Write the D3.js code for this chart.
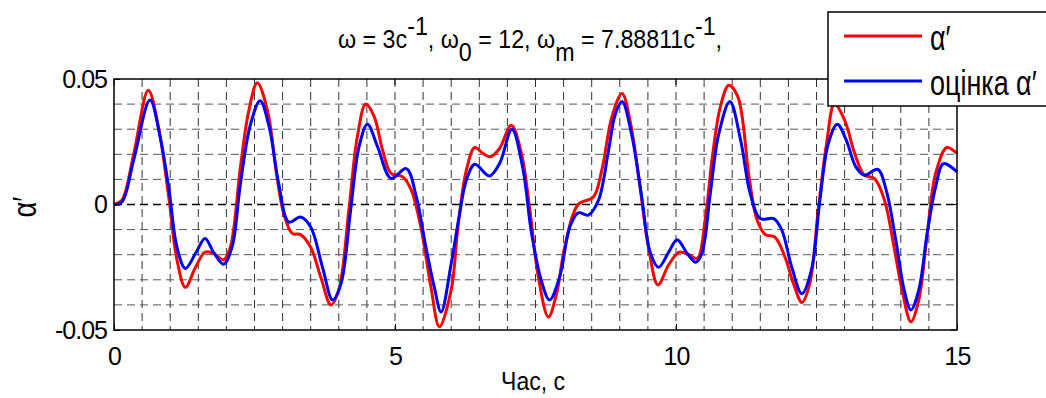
<!DOCTYPE html>
<html>
<head>
<meta charset="utf-8">
<script src="https://cdn.jsdelivr.net/npm/d3@7"></script>
<style>
  body { margin: 0; background: #fff; }
  text { font-family: "Liberation Sans", Arial, sans-serif; fill: #000; }
</style>
</head>
<body>
<div id="chart"></div>
<script>
// alpha' (red)
var redT = [0, 0.14, 0.35, 0.61, 0.79, 0.98, 1.12, 1.27, 1.45, 1.62, 1.77, 1.95, 2.07, 2.25, 2.4, 2.55, 2.73, 2.9, 3.02, 3.17, 3.32, 3.5, 3.68, 3.86, 4.0, 4.18, 4.33, 4.48, 4.63, 4.78, 4.93, 5.14, 5.29, 5.46, 5.64, 5.79, 6.0, 6.12, 6.27, 6.42, 6.57, 6.7, 6.86, 7.07, 7.25, 7.4, 7.55, 7.73, 7.88, 8.02, 8.26, 8.53, 8.68, 8.86, 9.04, 9.18, 9.36, 9.51, 9.68, 9.87, 10.06, 10.23, 10.38, 10.52, 10.64, 10.79, 10.94, 11.1, 11.3, 11.44, 11.59, 11.76, 11.94, 12.09, 12.24, 12.38, 12.53, 12.68, 12.82, 13.0, 13.18, 13.35, 13.53, 13.71, 13.88, 14.03, 14.18, 14.32, 14.47, 14.62, 14.82, 15];
var redV = [0, 0.0017, 0.02, 0.0455, 0.031, 0.002, -0.022, -0.033, -0.025, -0.019, -0.0195, -0.022, -0.017, 0.015, 0.0375, 0.0485, 0.0375, 0.011, -0.0036, -0.0115, -0.012, -0.017, -0.029, -0.040, -0.034, -0.002, 0.027, 0.040, 0.035, 0.0216, 0.0124, 0.011, 0.0057, -0.009, -0.033, -0.0487, -0.034, -0.009, 0.0137, 0.0227, 0.0203, 0.019, 0.0223, 0.0316, 0.0203, -0.0023, -0.0288, -0.0448, -0.035, -0.017, 0, 0.003, 0.0137, 0.035, 0.0442, 0.0336, 0.007, -0.017, -0.032, -0.024, -0.019, -0.020, -0.0215, -0.006, 0.0177, 0.039, 0.0475, 0.043, 0.011, -0.006, -0.012, -0.013, -0.021, -0.0315, -0.039, -0.0315, -0.0023, 0.0243, 0.040, 0.0336, 0.0203, 0.0117, 0.0104, 0.0017, -0.017, -0.035, -0.0467, -0.038, -0.0115, 0.0124, 0.0227, 0.0203];

// "оцінка alpha'" (blue)
var blueT = [0, 0.14, 0.35, 0.64, 0.82, 0.98, 1.12, 1.27, 1.45, 1.62, 1.77, 1.95, 2.1, 2.25, 2.43, 2.6, 2.76, 2.93, 3.11, 3.32, 3.5, 3.71, 3.89, 4.04, 4.21, 4.36, 4.51, 4.69, 4.93, 5.2, 5.38, 5.55, 5.7, 5.82, 6.0, 6.15, 6.27, 6.42, 6.68, 6.86, 7.08, 7.27, 7.43, 7.6, 7.75, 7.93, 8.11, 8.26, 8.44, 8.62, 8.8, 8.92, 9.04, 9.21, 9.39, 9.54, 9.69, 9.87, 10.02, 10.2, 10.35, 10.46, 10.61, 10.76, 10.96, 11.15, 11.32, 11.5, 11.74, 11.88, 12.06, 12.24, 12.41, 12.56, 12.71, 12.87, 13.03, 13.2, 13.35, 13.59, 13.74, 13.91, 14.06, 14.18, 14.32, 14.47, 14.62, 14.76, 15];
var blueV = [0, 0.001, 0.0177, 0.0416, 0.027, 0.0057, -0.017, -0.0255, -0.0195, -0.0135, -0.019, -0.0238, -0.017, 0.0084, 0.032, 0.0413, 0.031, 0.0084, -0.007, -0.005, -0.009, -0.025, -0.038, -0.0315, -0.0023, 0.023, 0.032, 0.023, 0.0104, 0.0143, 0.003, -0.017, -0.033, -0.0428, -0.0235, -0.0036, 0.0097, 0.016, 0.0114, 0.0163, 0.030, 0.015, -0.0115, -0.030, -0.038, -0.0288, -0.009, -0.0033, -0.0042, 0.0017, 0.0216, 0.036, 0.041, 0.028, 0.003, -0.019, -0.025, -0.019, -0.014, -0.0195, -0.023, -0.0195, 0.0044, 0.028, 0.041, 0.0256, 0.0044, -0.0056, -0.0056, -0.010, -0.025, -0.0355, -0.026, 0.0017, 0.0243, 0.032, 0.0256, 0.015, 0.0117, 0.014, 0.0057, -0.014, -0.034, -0.042, -0.034, -0.0115, 0.007, 0.0163, 0.013];

var xTicks = [0, 5, 10, 15];
var yTicks = [-0.05, 0, 0.05];
var legendLabels = ["\u03B1\u2032", "оцінка \u03B1\u2032"];

var W = 1046, H = 398;
var margin = { top: 79, right: 89, bottom: 68, left: 114 },
    width = W - margin.left - margin.right,
    height = H - margin.top - margin.bottom;

var svg = d3.select("#chart").append("svg")
    .attr("width", W)
    .attr("height", H);

// text squeezed sideways, like the exported figure
function narrowText(parent, px, py, str, size, sx, anchor) {
    return parent.append("g")
        .attr("transform", "translate(" + px + "," + py + ") scale(" + sx + ",1)")
        .append("text")
        .attr("text-anchor", anchor || "start")
        .style("font-size", size + "px")
        .text(str);
}

var x = d3.scaleLinear().domain([0, 15]).range([0, width]);
var y = d3.scaleLinear().domain([-0.05, 0.05]).range([height, 0]);

var g = svg.append("g")
    .attr("transform", "translate(" + margin.left + "," + margin.top + ")");

// grid, every 0.5 s and every 0.01
var xGrid = d3.range(1, 30).map(function (i) { return i * 0.5; });
var yGrid = d3.range(-4, 5).map(function (i) { return i * 0.01; });

g.selectAll(".vgrid")
    .data(xGrid)
    .enter()
    .append("line")
    .attr("x1", function (d) { return x(d); })
    .attr("x2", function (d) { return x(d); })
    .attr("y1", 0)
    .attr("y2", height)
    .attr("stroke", "#333")
    .attr("stroke-width", 1)
    .attr("stroke-dasharray", "8,5");

g.selectAll(".hgrid")
    .data(yGrid)
    .enter()
    .append("line")
    .attr("x1", 0)
    .attr("x2", width)
    .attr("y1", function (d) { return y(d); })
    .attr("y2", function (d) { return y(d); })
    .attr("stroke", function (d) { return Math.abs(d) < 1e-9 ? "#000" : "#555"; })
    .attr("stroke-width", function (d) { return Math.abs(d) < 1e-9 ? 1.6 : 1; })
    .attr("stroke-dasharray", "8,5");

// lines
var line = d3.line()
    .x(function (d) { return x(d[0]); })
    .y(function (d) { return y(d[1]); })
    .curve(d3.curveCatmullRom.alpha(0.5));

var redData = d3.zip(redT, redV);
var blueData = d3.zip(blueT, blueV);

g.append("path")
    .datum(redData)
    .attr("fill", "none")
    .attr("stroke", "#ff0000")
    .attr("stroke-width", 3)
    .attr("d", line);

g.append("path")
    .datum(blueData)
    .attr("fill", "none")
    .attr("stroke", "#0000ff")
    .attr("stroke-width", 3)
    .attr("d", line);

// frame
g.append("rect")
    .attr("width", width)
    .attr("height", height)
    .attr("fill", "none")
    .attr("stroke", "#000")
    .attr("stroke-width", 1.5);

// axes with inward ticks
var xAxis = d3.axisBottom(x).tickValues(xTicks).tickSize(-6).tickPadding(17)
    .tickFormat(d3.format("d"));
var yAxis = d3.axisLeft(y).tickValues(yTicks).tickSize(-6).tickPadding(7)
    .tickFormat(function (d) { return d === 0 ? "0" : d.toFixed(2); });

var gx = g.append("g")
    .attr("transform", "translate(0," + height + ")")
    .call(xAxis);
var gy = g.append("g").call(yAxis);

[gx, gy].forEach(function (a) {
    a.select(".domain").remove();
    a.selectAll(".tick line").attr("stroke", "#000").attr("stroke-width", 1);
    a.selectAll(".tick text")
        .style("font-family", "'Liberation Sans', Arial, sans-serif")
        .style("font-size", "25px")
        .attr("letter-spacing", "-1")
        .attr("fill", "#000");
});

// top / right ticks
g.selectAll(".ttick")
    .data(xTicks)
    .enter()
    .append("line")
    .attr("x1", function (d) { return x(d); })
    .attr("x2", function (d) { return x(d); })
    .attr("y1", 0)
    .attr("y2", 6)
    .attr("stroke", "#000");

g.selectAll(".rtick")
    .data(yTicks)
    .enter()
    .append("line")
    .attr("x1", width)
    .attr("x2", width - 6)
    .attr("y1", function (d) { return y(d); })
    .attr("y2", function (d) { return y(d); })
    .attr("stroke", "#000");

// axis titles
narrowText(svg, 533, 390, "Час, с", 25, 0.92, "middle");

svg.append("g")
    .attr("transform", "translate(36,207) rotate(-90) scale(0.8,1)")
    .append("text")
    .attr("text-anchor", "middle")
    .style("font-size", "34px")
    .text("\u03B1\u2032");

// title
var title = svg.append("g")
    .attr("transform", "translate(530,48) scale(0.93,1)")
    .append("text")
    .attr("text-anchor", "middle")
    .style("font-size", "25px");
title.append("tspan").text("\u03C9 = 3c");
title.append("tspan").attr("dy", -13).text("-1");
title.append("tspan").attr("dy", 13).text(", \u03C9");
title.append("tspan").attr("dy", 13).text("0");
title.append("tspan").attr("dy", -13).text("  = 12, \u03C9");
title.append("tspan").attr("dy", 13).text("m");
title.append("tspan").attr("dy", -13).text("  = 7.88811c");
title.append("tspan").attr("dy", -13).text("-1");
title.append("tspan").attr("dy", 13).text(",");

// legend
var legend = svg.append("g").attr("transform", "translate(828,12)");
legend.append("rect")
    .attr("width", 240)
    .attr("height", 94)
    .attr("fill", "#fff")
    .attr("stroke", "#000")
    .attr("stroke-width", 1.5);

var legendColors = ["#ff0000", "#0000ff"];
var legendY = [24, 69];

legend.selectAll(".lg")
    .data(legendLabels)
    .enter()
    .append("g")
    .each(function (d, i) {
        var s = d3.select(this);
        s.append("line")
            .attr("x1", 16).attr("x2", 94)
            .attr("y1", legendY[i]).attr("y2", legendY[i])
            .attr("stroke", legendColors[i])
            .attr("stroke-width", 3);
        narrowText(s, 102, legendY[i] + 14, d, 35, 0.77, "start");
    });
</script>
</body>
</html>
